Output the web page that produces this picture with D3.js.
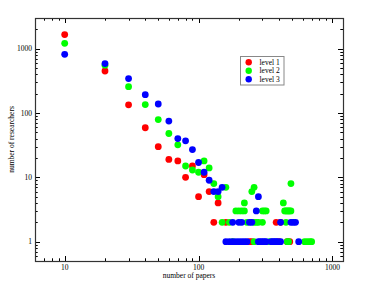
<!DOCTYPE html>
<html>
<head>
<meta charset="utf-8">
<script src="https://cdn.jsdelivr.net/npm/d3@7"></script>
<style>
  body { margin: 0; background: #fff; }
  text { font-family: "Liberation Serif", "DejaVu Serif", serif; fill: #000; }
</style>
</head>
<body>
<script>
// level 1 (red)
var level1Papers = [10, 20, 30, 40, 50, 60, 70, 80, 90, 100, 110, 120, 130, 140, 160, 380, 410,
  240, 250, 400, 460, 480];
var level1Counts = [1660, 450, 134, 59, 30, 19, 18, 10, 15, 5, 11, 6, 2, 4, 2, 2, 2,
  1, 1, 1, 1, 1];

// level 2 (green)
var level2Papers = [10, 20, 30, 40, 50, 60, 70, 80, 90, 100, 110, 120, 130, 140, 160, 220, 250, 260, 430, 490,
  190, 200, 210, 220, 300, 310, 320, 440, 450, 460, 470, 480, 490,
  150, 170, 230, 260, 270, 280, 300, 450,
  180, 260, 340, 460, 470, 620, 650, 680, 700];
var level2Counts = [1210, 555, 257, 135, 79, 48, 32, 15, 13, 12, 18, 14, 8, 5, 7, 4, 6, 7, 4, 8,
  3, 3, 3, 3, 3, 3, 3, 3, 3, 3, 3, 3, 3,
  2, 2, 2, 2, 2, 2, 2, 2,
  1, 1, 1, 1, 1, 1, 1, 1, 1];

// level 3 (blue)
var level3Papers = [10, 20, 30, 40, 50, 60, 70, 80, 90, 100, 110, 120, 130, 140, 150, 270, 280,
  180, 200, 210, 240, 250, 410, 490, 510, 530,
  160, 170, 180, 190, 200, 210, 220, 230, 280, 290, 300, 310, 320, 350, 360, 370, 380, 390, 410, 560];
var level3Counts = [818, 587, 343, 193, 138, 75, 40, 37, 27, 17, 12, 9, 6, 6, 7, 3, 5,
  2, 2, 2, 2, 2, 2, 2, 2, 2,
  1, 1, 1, 1, 1, 1, 1, 1, 1, 1, 1, 1, 1, 1, 1, 1, 1, 1, 1, 1];

var seriesNames = ["level 1", "level 2", "level 3"];
var seriesColors = ["#ff0000", "#00ff00", "#0000ff"];
var xTicks = [10, 100, 1000];
var yTicks = [1, 10, 100, 1000];

var width = 366, height = 283;
var plotL = 35, plotR = 343, plotT = 18, plotB = 261;

var svg = d3.select("body").append("svg").attr("width", width).attr("height", height);

var x = d3.scaleLog().domain([6, 1200]).range([plotL, plotR]);
var y = d3.scaleLog().domain([0.5, 3000]).range([plotB, plotT]);

var series = [
  {name: seriesNames[0], color: seriesColors[0], xs: level1Papers, ys: level1Counts},
  {name: seriesNames[1], color: seriesColors[1], xs: level2Papers, ys: level2Counts},
  {name: seriesNames[2], color: seriesColors[2], xs: level3Papers, ys: level3Counts}
];

// minor ticks 2..9 per decade
function minors(domain) {
  var out = [];
  for (var e = -1; e <= 4; e++) {
    for (var m = 1; m <= 9; m++) {
      var v = m * Math.pow(10, e);
      if (v >= domain[0] && v <= domain[1]) out.push(v);
    }
  }
  return out;
}
var xAll = minors(x.domain()), yAll = minors(y.domain());
function isMajor(v) { return Math.abs(Math.log10(v) - Math.round(Math.log10(v))) < 1e-9; }

var ticks = svg.append("g").attr("stroke", "#000").attr("stroke-width", 1);
xAll.forEach(function(v) {
  var len = isMajor(v) ? 5 : 2.7;
  var px = Math.round(x(v)) + 0.5;
  ticks.append("line").attr("x1", px).attr("x2", px).attr("y1", plotB).attr("y2", plotB - len);
  ticks.append("line").attr("x1", px).attr("x2", px).attr("y1", plotT).attr("y2", plotT + len);
});
yAll.forEach(function(v) {
  var len = isMajor(v) ? 5 : 2.7;
  var py = Math.round(y(v)) + 0.5;
  ticks.append("line").attr("y1", py).attr("y2", py).attr("x1", plotL).attr("x2", plotL + len);
  ticks.append("line").attr("y1", py).attr("y2", py).attr("x1", plotR).attr("x2", plotR - len);
});

svg.append("rect")
    .attr("x", plotL + 0.5).attr("y", plotT + 0.5)
    .attr("width", plotR - plotL).attr("height", plotB - plotT)
    .attr("fill", "none").attr("stroke", "#333").attr("stroke-width", 1.2);

svg.append("g").selectAll("text")
    .data(xTicks)
    .enter().append("text")
      .attr("x", function(d) { return x(d); })
      .attr("y", 270)
      .attr("text-anchor", "middle")
      .style("font-size", "7.5px")
      .text(function(d) { return d; });

svg.append("g").selectAll("text")
    .data(yTicks)
    .enter().append("text")
      .attr("x", 32)
      .attr("y", function(d) { return y(d) + 2.6; })
      .attr("text-anchor", "end")
      .style("font-size", "7.5px")
      .text(function(d) { return d; });

svg.append("text")
    .attr("x", (plotL + plotR) / 2).attr("y", 278)
    .attr("text-anchor", "middle")
    .style("font-size", "7.5px")
    .text("number of papers");

svg.append("text")
    .attr("transform", "translate(14," + ((plotT + plotB) / 2) + ") rotate(-90)")
    .attr("text-anchor", "middle")
    .style("font-size", "7.5px")
    .text("number of researchers");

var dots = svg.append("g");
series.forEach(function(s) {
  var pts = s.xs.map(function(v, i) { return [v, s.ys[i]]; });
  dots.append("g").selectAll("circle")
      .data(pts)
      .enter().append("circle")
        .attr("cx", function(d) { return x(d[0]); })
        .attr("cy", function(d) { return y(d[1]); })
        .attr("r", 3.4)
        .attr("fill", s.color);
});

// legend
var lg = svg.append("g");
lg.append("rect")
    .attr("x", 240.5).attr("y", 56.5).attr("width", 43.5).attr("height", 28.5)
    .attr("fill", "#fff").attr("stroke", "#888").attr("stroke-width", 1);
series.forEach(function(s, i) {
  var ly = 62.3 + i * 8.5;
  lg.append("circle").attr("cx", 248.7).attr("cy", ly).attr("r", 3.2).attr("fill", s.color);
  lg.append("text").attr("x", 259.5).attr("y", ly + 2.5)
      .style("font-size", "7.5px").text(s.name);
});
</script>
</body>
</html>
